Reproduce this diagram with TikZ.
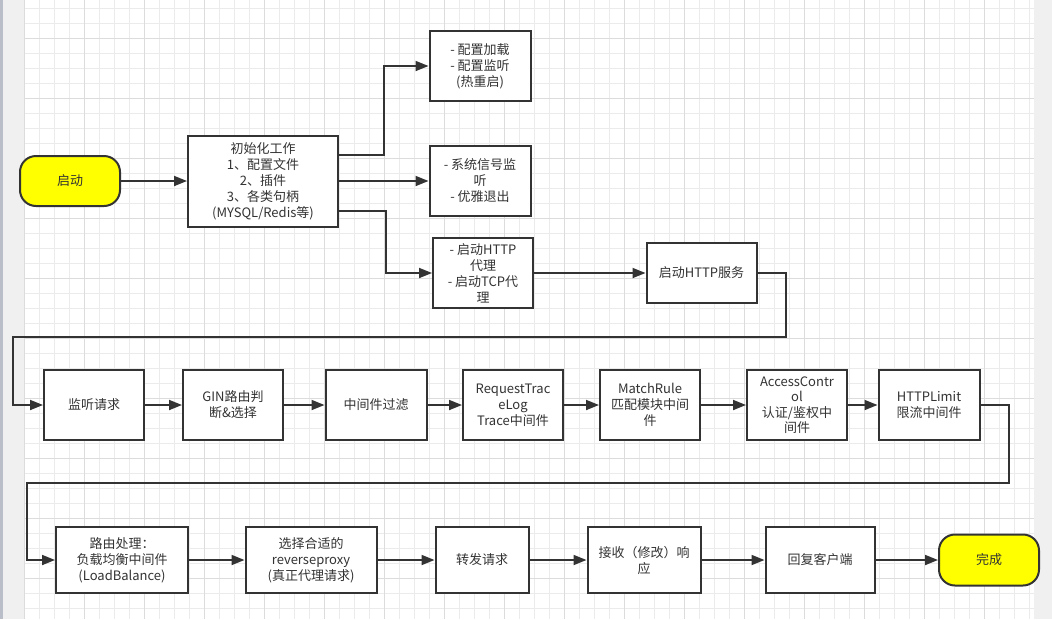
\documentclass[tikz,border=0pt]{standalone}
\usepackage{fontspec}
\setmainfont{Noto Sans CJK SC}
\usetikzlibrary{arrows.meta}
\definecolor{ink}{HTML}{333333}
\definecolor{termyellow}{HTML}{FFFF00}
\definecolor{gridminor}{HTML}{EBEBEB}
\definecolor{gridmajor}{HTML}{DCDCDC}
\definecolor{sidegray}{HTML}{F0F0F0}
\definecolor{edgegray}{HTML}{B9BEC9}
\begin{document}
\begin{tikzpicture}[x=1pt,y=-1pt,
  box/.style={draw=ink, line width=2pt, fill=white, text=ink, align=center, inner sep=0pt,
    font=\fontsize{13}{16}\selectfont},
  term/.style={box, fill=termyellow, rounded corners=16pt},
  arr/.style={draw=ink, line width=1.8pt, -{Triangle[length=13pt,width=10pt]}},
  minorline/.style={draw=gridminor, line width=1pt},
  majorline/.style={draw=gridmajor, line width=1pt}
]
\useasboundingbox (0,0) rectangle (1052,619);
% background
\fill[white] (0,0) rectangle (1052,619);
\fill[sidegray] (0,0) rectangle (24,619);
\fill[edgegray] (0,0) rectangle (3,619);
\fill[sidegray] (1034,0) rectangle (1052,619);
% grid
\foreach \x in {24,39,...,1034} \draw[minorline] (\x,0) -- (\x,619);
\foreach \y in {8,23,...,619} \draw[minorline] (24,\y) -- (1034,\y);
\foreach \x in {24,84,...,1034} \draw[majorline] (\x,0) -- (\x,619);
\foreach \y in {38,98,...,619} \draw[majorline] (24,\y) -- (1034,\y);

% row 1
\node[term, minimum width=100pt, minimum height=50pt] (start) at (70,181) {启动};
\node[box, minimum width=150pt, minimum height=91pt] (init) at (263,181)
  {初始化工作\\1、配置文件\\2、插件\\3、各类句柄\\(MYSQL/Redis等)};
\node[box, minimum width=101pt, minimum height=70pt] (cfg) at (480,66)
  {- 配置加载\\- 配置监听\\(热重启)};
\node[box, minimum width=101pt, minimum height=70pt] (sig) at (480,181)
  {- 系统信号监\\听\\- 优雅退出};
\node[box, minimum width=100pt, minimum height=70pt] (proxy) at (483,273)
  {- 启动HTTP\\代理\\- 启动TCP代\\理};
\node[box, minimum width=110pt, minimum height=60pt] (httpsvc) at (701.5,273)
  {启动HTTP服务};

% row 2
\node[box, minimum width=100pt, minimum height=70pt] (listen) at (94,405) {监听请求};
\node[box, minimum width=100pt, minimum height=70pt] (gin) at (233,405) {GIN路由判\\断\&选择};
\node[box, minimum width=101pt, minimum height=70pt] (mw) at (376,405) {中间件过滤};
\node[box, minimum width=100pt, minimum height=70pt] (trace) at (513,405)
  {RequestTrac\\eLog\\Trace中间件};
\node[box, minimum width=100pt, minimum height=70pt] (match) at (650,405)
  {MatchRule\\匹配模块中间\\件};
\node[box, minimum width=100pt, minimum height=70pt, font=\fontsize{13}{15.5}\selectfont] (access) at (797,405)
  {AccessContr\\ol\\认证/鉴权中\\间件};
\node[box, minimum width=101pt, minimum height=70pt] (limit) at (929,405)
  {HTTPLimit\\限流中间件};

% row 3
\node[box, minimum width=132pt, minimum height=66pt] (lb) at (122,560)
  {路由处理：\\负载均衡中间件\\(LoadBalance)};
\node[box, minimum width=131pt, minimum height=66pt] (rp) at (311,560)
  {选择合适的\\reverseproxy\\(真正代理请求)};
\node[box, minimum width=93pt, minimum height=66pt] (fwd) at (482,560) {转发请求};
\node[box, minimum width=113pt, minimum height=66pt] (recv) at (644,560)
  {接收（修改）响\\应};
\node[box, minimum width=109pt, minimum height=66pt] (reply) at (820,560) {回复客户端};
\node[term, minimum width=100pt, minimum height=51pt] (done) at (989,560) {完成};

% bends
\coordinate (b1) at (786,337);
\coordinate (b2) at (13,337);
\coordinate (b3) at (1009,483);
\coordinate (b4) at (27,483);

% connectors
\draw[arr] (start) -- (init);
\draw[arr] ([yshift=26pt]init.east) -- ++(45,0) |- (cfg.west);
\draw[arr] (init.east) -- (sig.west);
\draw[arr] ([yshift=-30pt]init.east) -- ++(47,0) |- (proxy.west);
\draw[arr] (proxy.east) -- (httpsvc.west);
\draw[arr] (httpsvc.east) -| (b1) -- (b2) |- (listen.west);
\draw[arr] (listen) -- (gin);
\draw[arr] (gin) -- (mw);
\draw[arr] (mw) -- (trace);
\draw[arr] (trace) -- (match);
\draw[arr] (match) -- (access);
\draw[arr] (access) -- (limit);
\draw[arr] (limit.east) -| (b3) -- (b4) |- (lb.west);
\draw[arr] (lb) -- (rp);
\draw[arr] (rp) -- (fwd);
\draw[arr] (fwd) -- (recv);
\draw[arr] (recv) -- (reply);
\draw[arr] (reply) -- (done);
\end{tikzpicture}
\end{document}
